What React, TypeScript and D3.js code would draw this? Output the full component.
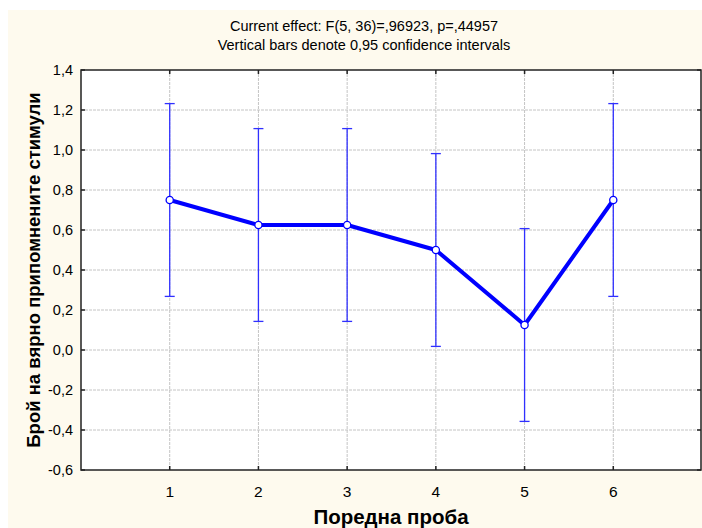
import React from "react";
import * as d3 from "d3";

// Mean number of correctly recalled stimuli per trial, with 0.95 CIs
const trials = [1, 2, 3, 4, 5, 6];
const means = [0.75, 0.625, 0.625, 0.5, 0.125, 0.75];
const ciLower = [0.268, 0.143, 0.143, 0.018, -0.357, 0.268];
const ciUpper = [1.232, 1.107, 1.107, 0.982, 0.607, 1.232];
const yTicks = [-0.6, -0.4, -0.2, 0.0, 0.2, 0.4, 0.6, 0.8, 1.0, 1.2, 1.4];

const titleLines = [
  "Current effect: F(5, 36)=,96923, p=,44957",
  "Vertical bars denote 0,95 confidence intervals",
];
const xTitle = "Поредна проба";
const yTitle = "Брой на вярно припомнените стимули";

const W = 702;
const H = 528;
const plot = { left: 81, top: 70, right: 701, bottom: 470 };

const fmt = (v: number) => {
  const s = Math.abs(v).toFixed(1).replace(".", ",");
  return (v < -1e-9 ? "-" : "") + s;
};

export default function App() {
  const x = d3.scaleLinear().domain([0, 7]).range([plot.left, 702]);
  const y = d3.scaleLinear().domain([-0.6, 1.4]).range([plot.bottom, plot.top]);
  const line = d3
    .line<number>()
    .x((_, i) => x(trials[i]))
    .y((d) => y(d));
  const font = "'Liberation Sans', Arial, sans-serif";
  const grid = "#c4c4c4";
  const cx = (plot.left + plot.right) / 2;

  return (
    <svg
      width={W}
      height={H}
      style={{ position: "absolute", left: 0, top: 0 }}
      fontFamily={font}
    >
      <rect x={0} y={0} width={W} height={H} fill="#ffffff" />
      <rect x={8} y={10} width={W - 8} height={H - 10} fill="#fefaee" />
      {titleLines.map((t, i) => (
        <text key={i} x={364} y={31 + i * 19} fontSize={14.5} textAnchor="middle" fill="#000">
          {t}
        </text>
      ))}
      <rect
        x={plot.left}
        y={plot.top}
        width={plot.right - plot.left}
        height={plot.bottom - plot.top}
        fill="#ffffff"
      />
      {/* grid */}
      {yTicks.slice(1, -1).map((v) => (
        <line
          key={"gy" + v}
          x1={plot.left}
          x2={plot.right}
          y1={y(v)}
          y2={y(v)}
          stroke={grid}
          strokeDasharray="3,1"
        />
      ))}
      {trials.map((t) => (
        <line
          key={"gx" + t}
          x1={x(t)}
          x2={x(t)}
          y1={plot.top}
          y2={plot.bottom}
          stroke={grid}
          strokeDasharray="3,1"
        />
      ))}
      {/* border */}
      <rect
        x={plot.left}
        y={plot.top}
        width={plot.right - plot.left}
        height={plot.bottom - plot.top}
        fill="none"
        stroke="#222"
        strokeWidth={1.5}
      />
      {/* inward ticks */}
      {yTicks.map((v) => (
        <g key={"ty" + v}>
          <line x1={plot.left} x2={plot.left + 4} y1={y(v)} y2={y(v)} stroke="#222" strokeWidth={1.5} />
          <line x1={plot.right - 4} x2={plot.right} y1={y(v)} y2={y(v)} stroke="#222" strokeWidth={1.5} />
          <text x={73} y={y(v) + 5} fontSize={14.5} textAnchor="end" fill="#000">
            {fmt(v)}
          </text>
        </g>
      ))}
      {trials.map((t) => (
        <g key={"tx" + t}>
          <line x1={x(t)} x2={x(t)} y1={plot.bottom - 4} y2={plot.bottom} stroke="#222" strokeWidth={1.5} />
          <line x1={x(t)} x2={x(t)} y1={plot.top} y2={plot.top + 4} stroke="#222" strokeWidth={1.5} />
          <text x={x(t)} y={497} fontSize={15.5} textAnchor="middle" fill="#000">
            {t}
          </text>
        </g>
      ))}
      {/* error bars */}
      {trials.map((t, i) => (
        <g key={"eb" + t} stroke="#3030ff" strokeWidth={1.3}>
          <line x1={x(t)} x2={x(t)} y1={y(ciLower[i])} y2={y(ciUpper[i])} />
          <line x1={x(t) - 5} x2={x(t) + 5} y1={y(ciLower[i])} y2={y(ciLower[i])} />
          <line x1={x(t) - 5} x2={x(t) + 5} y1={y(ciUpper[i])} y2={y(ciUpper[i])} />
        </g>
      ))}
      <path d={line(means) ?? ""} fill="none" stroke="#0000ff" strokeWidth={4} strokeLinejoin="round" />
      {means.map((m, i) => (
        <circle key={"pt" + i} cx={x(trials[i])} cy={y(m)} r={3.6} fill="#fff" stroke="#0000ff" strokeWidth={1.3} />
      ))}
      {/* axis titles */}
      <text x={cx} y={524} fontSize={20.5} fontWeight="bold" textAnchor="middle" fill="#000">
        {xTitle}
      </text>
      <text
        transform={`translate(40, ${(plot.top + plot.bottom) / 2}) rotate(-90)`}
        fontSize={18.5}
        fontWeight="bold"
        textAnchor="middle"
        fill="#000"
      >
        {yTitle}
      </text>
    </svg>
  );
}
